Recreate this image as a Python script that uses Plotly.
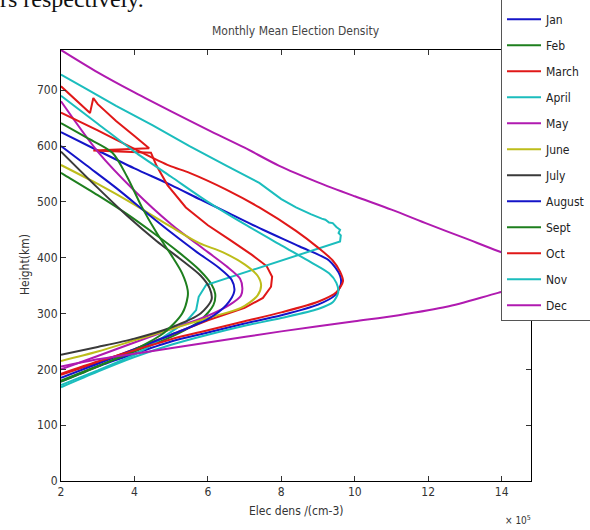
import plotly.graph_objects as go

# ---------------- data (density in 1e5 cm^-3, height in km) ----------------
months = ["Jan", "Feb", "March", "April", "May", "June", "July",
          "August", "Sept", "Oct", "Nov", "Dec"]
colors = ["#1414C8", "#1E7F1E", "#E01818", "#1BBDBD", "#B01AB0", "#BDBD1A",
          "#3A3A3A", "#1414C8", "#1E7F1E", "#E01818", "#1BBDBD", "#B01AB0"]
shapes = ["spline", "spline", "linear", "linear", "spline", "spline", "spline",
          "spline", "spline", "spline", "spline", "spline"]

jan_x = [2, 3, 4, 5, 6, 7, 8, 9, 9.45, 9.62, 9.6, 9.3, 8.5, 7.5, 6.5, 5.8, 5, 4, 3, 2]
jan_h = [178, 205, 228, 250, 266, 282, 297, 316, 332, 352, 368, 395, 420, 450, 482, 504, 530, 560, 592, 625]

feb_x = [2, 3, 4, 5, 5.8, 6.15, 6.2, 6.1, 5.77, 5.2, 4.5, 3.8, 3, 2.1, 2]
feb_h = [180, 206, 232, 258, 288, 315, 335, 352, 378, 410, 445, 478, 512, 548, 552]

mar_x = [2, 3, 4, 5, 6, 7, 7.5, 7.72, 7.75, 7.6, 7.2, 6.6, 6, 5.4, 4.9, 4.6, 4.45,
         2.88, 4.4, 4.0, 3.5, 3.0, 2.88, 2.79, 2]
mar_h = [190, 212, 236, 262, 288, 310, 328, 348, 366, 385, 405, 432, 458, 490, 530, 565, 588,
         592, 596, 618, 645, 675, 686, 659, 707]

apr_x = [2, 3, 4, 4.41, 4.95, 5.4, 5.68, 5.75, 5.95, 9.6, 9.62, 9.56, 9.6, 9.5, 9.4, 9.3,
         9.2, 9.1, 8.8, 8.4, 8.0, 7.4, 6.5, 5.5, 4.5, 3.5, 2.7, 2]
apr_h = [172, 198, 226, 241, 265, 285, 306, 330, 351, 429, 440, 444, 450, 455, 462, 463,
         468, 470, 478, 490, 505, 534, 565, 600, 637, 672, 702, 728]

may_x = [2, 3, 4, 5, 6, 6.6, 6.9, 6.94, 6.88, 6.5, 6, 5, 4, 3, 2]
may_h = [200, 224, 248, 272, 296, 316, 332, 345, 362, 385, 410, 460, 520, 590, 680]

jun_x = [2, 3, 4, 5, 6, 6.9, 7.35, 7.45, 7.35, 7.0, 6.4, 5.77, 5, 4, 3, 2]
jun_h = [215, 232, 252, 272, 292, 310, 332, 350, 368, 388, 410, 426, 455, 495, 532, 566]

jul_x = [2, 3, 4, 5, 5.8, 6.1, 6.05, 5.8, 5.3, 4.6, 3.8, 3, 2]
jul_h = [226, 240, 255, 275, 300, 325, 345, 368, 395, 430, 475, 525, 590]

aug_x = [2, 3, 4, 5, 6, 6.5, 6.72, 6.65, 6.3, 5.7, 5, 4.41, 3.5, 2.7, 2]
aug_h = [185, 210, 236, 262, 290, 315, 340, 360, 382, 410, 445, 476, 525, 565, 600]

sep_x = [2, 3, 4, 4.8, 5.3, 5.45, 5.45, 5.3, 5.0, 4.6, 4.2, 3.8, 3.4, 2.7, 2]
sep_h = [178, 205, 235, 265, 300, 330, 342, 372, 405, 445, 491, 545, 588, 615, 641]

oct_x = [2, 3, 4, 5, 6, 7, 8, 9, 9.5, 9.68, 9.6, 9.4, 9.0, 8.4, 7.4, 6.5, 5.5, 4.95, 4, 3, 2]
oct_h = [192, 214, 234, 254, 270, 286, 302, 321, 338, 358, 375, 395, 418, 448, 490, 522, 552, 565, 595, 628, 660]

nov_x = [2, 3, 4, 5, 6, 7, 8, 9, 9.4, 9.55, 9.5, 9.3, 8.8, 8.0, 7.0, 6.0, 5, 4, 3, 2]
nov_h = [168, 196, 222, 244, 262, 278, 292, 308, 320, 338, 355, 372, 392, 422, 460, 500, 545, 590, 640, 690]

dec_x = [2, 3, 4.41, 6, 8, 10, 11.2, 12.5, 13.9, 14.8, 15.4, 15.2, 14.8, 13.9, 13, 12, 11, 10,
         9, 7.93, 7, 6, 5, 4, 3, 2]
dec_h = [205, 218, 232, 248, 268, 286, 297, 312, 337, 352, 372, 385, 392, 412, 435, 460, 486, 510,
         535, 565, 597, 629, 662, 696, 732, 772]

series_x = [jan_x, feb_x, mar_x, apr_x, may_x, jun_x, jul_x, aug_x, sep_x, oct_x, nov_x, dec_x]
series_h = [jan_h, feb_h, mar_h, apr_h, may_h, jun_h, jul_h, aug_h, sep_h, oct_h, nov_h, dec_h]

x_ticks = [2, 4, 6, 8, 10, 12, 14]
y_ticks = [0, 100, 200, 300, 400, 500, 600, 700]
x_range = [2, 14.8]
y_range = [0, 772]

FONT = "Liberation Sans Narrow, DejaVu Sans Condensed, Arial Narrow, Liberation Sans, sans-serif"
PAD = "\u00a0"

fig = go.Figure()
for name, col, shp, xs, hs in zip(months, colors, shapes, series_x, series_h):
    fig.add_trace(go.Scatter(x=xs, y=hs, mode="lines", name=name + PAD, legendgroup=name,
                             line=dict(color=col, width=2, shape=shp, smoothing=0.8)))

W, H = 590, 530
L, R, T, B = 61, 59, 50, 49
pw, ph = W - L - R, H - T - B

def px(xp):
    return (xp - L) / pw

def py(yp):
    return (H - B - yp) / ph

fig.update_layout(
    width=W, height=H,
    margin=dict(l=L, r=R, t=T, b=B, autoexpand=False),
    paper_bgcolor="white", plot_bgcolor="white",
    font=dict(family=FONT, size=12, color="#333333"),
    showlegend=True,
    legend=dict(x=px(501), y=py(-8), xref="paper", yref="paper",
                xanchor="left", yanchor="top", maxheight=900,
                bgcolor="white", bordercolor="#555555", borderwidth=1,
                font=dict(family=FONT, size=12, color="#222222"),
                title=dict(text=" ", font=dict(size=9)),
                tracegroupgap=7, itemwidth=34),
    xaxis=dict(range=x_range, tickvals=x_ticks, ticktext=[str(v) for v in x_ticks],
               ticks="inside", ticklen=5, tickcolor="#333333", showline=True, linecolor="black",
               linewidth=1, mirror="ticks", showgrid=False, zeroline=False,
               tickfont=dict(size=12, color="#333333")),
    yaxis=dict(range=y_range, tickvals=y_ticks, ticktext=[str(v) for v in y_ticks],
               ticks="inside", ticklen=5, tickcolor="#333333", showline=True, linecolor="black",
               linewidth=1, mirror="ticks", showgrid=False, zeroline=False,
               tickfont=dict(size=12, color="#333333")),
    annotations=[
        dict(text="Monthly Mean Election Density", x=px(296), y=py(31), xref="paper", yref="paper",
             showarrow=False, xanchor="center", yanchor="middle",
             font=dict(family=FONT, size=12, color="#444444")),
        dict(text="Elec dens /(cm-3)", x=px(296), y=py(511), xref="paper", yref="paper",
             showarrow=False, xanchor="center", yanchor="middle",
             font=dict(family=FONT, size=12, color="#333333")),
        dict(text="Height(km)", x=px(25), y=py(265), xref="paper", yref="paper",
             showarrow=False, xanchor="center", yanchor="middle", textangle=-90,
             font=dict(family=FONT, size=12, color="#333333")),
        dict(text="× 10<sup>5</sup>", x=px(518), y=py(520), xref="paper", yref="paper",
             showarrow=False, xanchor="center", yanchor="middle",
             font=dict(family=FONT, size=10, color="#333333")),
        dict(text="rs respectively.", x=px(-2), y=py(14), xref="paper", yref="paper",
             showarrow=False, xanchor="left", yanchor="bottom",
             font=dict(family="Liberation Serif, serif", size=24, color="#111111")),
    ],
)

fig.write_html("out.html")
